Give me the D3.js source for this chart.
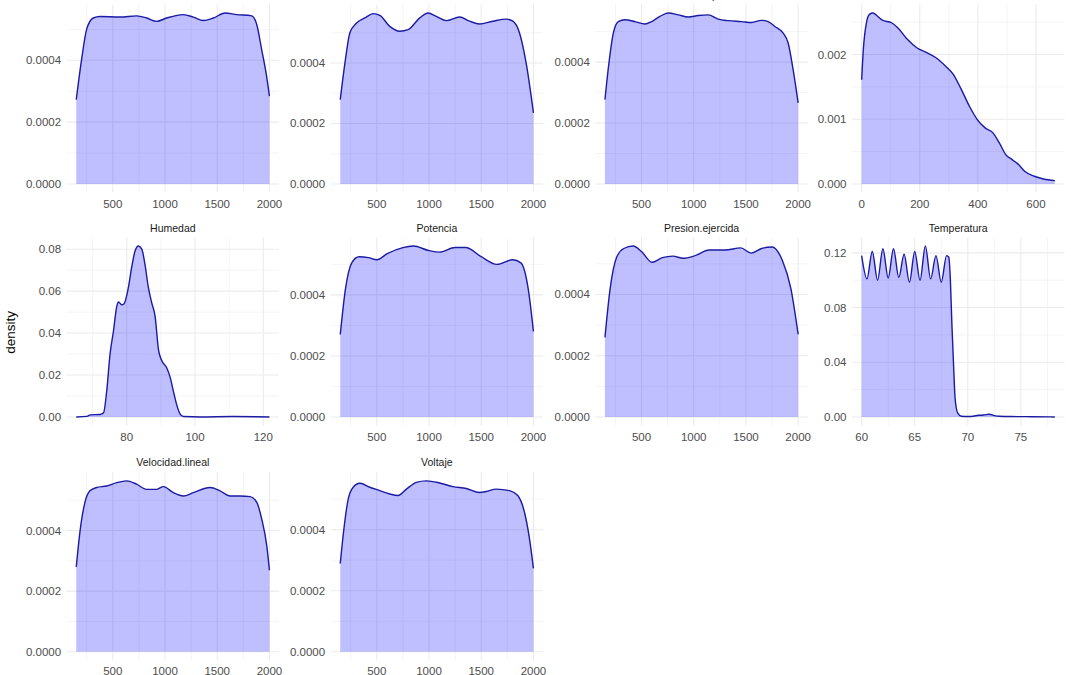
<!DOCTYPE html>
<html>
<head>
<meta charset="utf-8">
<script src="https://cdn.jsdelivr.net/npm/d3@7"></script>
<style>
  html, body { margin: 0; padding: 0; background: #ffffff; }
  svg text { font-family: "Liberation Sans", Arial, sans-serif; }
</style>
</head>
<body>
<svg id="chart" width="1071" height="675"></svg>
<script>
// ---------------- DATA ----------------
const panelNames = ["Corriente", "Frecuencia.motor", "Fuerza.compresion", "Horas.funcionamiento",
                    "Humedad", "Potencia", "Presion.ejercida", "Temperatura",
                    "Velocidad.lineal", "Voltaje"];

const densCorriente = [[150,0.000273],[201,0.000402],[249,0.0005],[313,0.000537],[377,0.000542],[568,0.00054],
  [728,0.000544],[824,0.000537],[920,0.000526],[1016,0.000537],[1176,0.000548],[1271,0.00054],[1367,0.000529],
  [1463,0.000537],[1575,0.000553],[1687,0.000548],[1831,0.000544],[1879,0.000515],[1926,0.000434],[1973,0.000348],[2000,0.000284]];

const densFrecuencia = [[150,0.000279],[195,0.0004],[242,0.0005],[306,0.000532],[386,0.000549],[465,0.000563],
  [529,0.000557],[624,0.000521],[720,0.000505],[800,0.00051],[911,0.000549],[991,0.000565],[1070,0.000554],
  [1166,0.00054],[1293,0.000552],[1389,0.000538],[1484,0.000529],[1611,0.000538],[1739,0.000545],[1803,0.000538],
  [1866,0.0005],[1930,0.0004],[2000,0.000235]];

const densFuerza = [[150,0.000277],[188,0.000397],[230,0.000495],[278,0.000533],[341,0.000539],[437,0.000533],
  [533,0.000525],[597,0.000533],[676,0.00055],[756,0.000561],[852,0.000555],[948,0.000548],[1043,0.000553],
  [1139,0.000555],[1235,0.000541],[1330,0.000536],[1458,0.000533],[1554,0.00053],[1649,0.000537],[1713,0.000533],
  [1777,0.000517],[1857,0.000495],[1905,0.000462],[1952,0.000375],[2000,0.000266]];

const densHoras = [[0,0.00161],[5.8,0.00208],[16.4,0.00249],[27,0.00262],[38.6,0.00264],[55,0.00259],[71.3,0.00253],
  [103,0.00249],[125,0.00241],[158,0.00223],[191,0.0021],[224,0.00203],[256,0.00195],[289,0.00182],[316,0.00169],
  [343,0.00146],[371,0.0012],[398,0.000995],[425,0.000866],[452,0.000789],[474,0.000634],[496,0.000454],
  [518,0.000376],[540,0.000299],[561,0.000196],[594,0.000119],[626,0.0000773],[665,0.0000515]];

const densHumedad = [[65.2,0],[68.3,0.0003],[69.3,0.001],[72.2,0.0012],[73.2,0.002],[74.1,0.012],[75.1,0.030],
  [76.1,0.041],[77.1,0.053],[77.6,0.0548],[78.5,0.0535],[79.2,0.054],[80.5,0.062],[81.5,0.072],[82.4,0.079],
  [83.4,0.0815],[84.4,0.080],[85.4,0.072],[86.3,0.062],[87.3,0.0545],[88.3,0.048],[89.3,0.032],[90.2,0.027],
  [91.7,0.0235],[92.7,0.019],[93.7,0.012],[94.6,0.006],[95.6,0.0015],[96.6,0.0002],[101.5,0],[111,0.0002],[121.8,0]];

const densPotencia = [[150,0.00027],[200,0.00042],[260,0.000505],[330,0.000525],[420,0.000522],[500,0.000515],
  [600,0.000535],[750,0.000555],[850,0.00056],[1000,0.000545],[1100,0.00054],[1250,0.000555],[1350,0.000555],
  [1500,0.000525],[1650,0.0005],[1800,0.000515],[1880,0.000505],[1950,0.00042],[2000,0.00028]];

const densPresion = [[150,0.00026],[200,0.00042],[260,0.00052],[330,0.00055],[420,0.000558],[500,0.00054],
  [600,0.000505],[700,0.00052],[800,0.000525],[900,0.000518],[1000,0.000525],[1150,0.000545],[1300,0.000545],
  [1450,0.000552],[1550,0.000535],[1650,0.00055],[1750,0.000555],[1850,0.00051],[1930,0.00042],[2000,0.00027]];

const densTemperatura = [[60,0.118],[60.5,0.101],[61,0.121],[61.5,0.100],[62,0.123],[62.5,0.1016],[63,0.123],
  [63.5,0.102],[64,0.119],[64.5,0.0985],[65,0.121],[65.5,0.100],[66,0.125],[66.5,0.101],[67,0.118],[67.5,0.0985],
  [68,0.118],[68.2,0.117],[68.36,0.1],[68.5,0.068],[68.67,0.036],[68.8,0.014],[69.04,0.003],[69.4,0.0005],
  [70,0.0003],[70.5,0.0005],[71,0.0012],[71.5,0.0014],[72,0.002],[72.5,0.001],[73,0.0005],[74,0.0003],[76,0.0002],[78.2,0]];

const densVelocidad = [[150,0.00028],[185,0.000395],[233,0.000493],[281,0.000531],[345,0.000542],[441,0.000547],
  [537,0.000558],[632,0.000564],[728,0.000553],[824,0.000536],[920,0.000536],[984,0.000545],[1080,0.000525],
  [1176,0.000514],[1271,0.000525],[1431,0.000542],[1527,0.000531],[1623,0.000514],[1719,0.000514],[1815,0.000512],
  [1879,0.000493],[1926,0.000438],[1974,0.000351],[2000,0.000269]];

const densVoltaje = [[150,0.000289],[185,0.000403],[226,0.0005],[274,0.000539],[338,0.000552],[433,0.000539],
  [529,0.000528],[624,0.000517],[704,0.000512],[784,0.000533],[879,0.000555],[975,0.00056],[1102,0.000553],
  [1229,0.000541],[1357,0.000535],[1484,0.000522],[1548,0.000525],[1643,0.000533],[1771,0.000528],[1850,0.000512],
  [1914,0.000457],[1962,0.000371],[2000,0.000273]];

const xTicksUniform = [500, 1000, 1500, 2000];
const xTicksHoras = [0, 200, 400, 600];
const xTicksHumedad = [80, 100, 120];
const xTicksTemperatura = [60, 65, 70, 75];

const yTicksUniform = [0, 0.0002, 0.0004];
const yLabelsUniform = ["0.0000", "0.0002", "0.0004"];
const yTicksHoras = [0, 0.001, 0.002];
const yLabelsHoras = ["0.000", "0.001", "0.002"];
const yTicksHumedad = [0, 0.02, 0.04, 0.06, 0.08];
const yLabelsHumedad = ["0.00", "0.02", "0.04", "0.06", "0.08"];
const yTicksTemperatura = [0, 0.04, 0.08, 0.12];
const yLabelsTemperatura = ["0.00", "0.04", "0.08", "0.12"];

const yAxisTitle = "density";

// ---------------- BUILD ----------------
const panelDens = [densCorriente, densFrecuencia, densFuerza, densHoras, densHumedad,
                   densPotencia, densPresion, densTemperatura, densVelocidad, densVoltaje];
const panelXTicks = [xTicksUniform, xTicksUniform, xTicksUniform, xTicksHoras, xTicksHumedad,
                     xTicksUniform, xTicksUniform, xTicksTemperatura, xTicksUniform, xTicksUniform];
const panelYTicks = [yTicksUniform, yTicksUniform, yTicksUniform, yTicksHoras, yTicksHumedad,
                     yTicksUniform, yTicksUniform, yTicksTemperatura, yTicksUniform, yTicksUniform];
const panelYLabels = [yLabelsUniform, yLabelsUniform, yLabelsUniform, yLabelsHoras, yLabelsHumedad,
                      yLabelsUniform, yLabelsUniform, yLabelsTemperatura, yLabelsUniform, yLabelsUniform];

const colLeft = [66.6, 330.6, 595.3, 852];
const rowTop = [4.5, 237.5, 472.3];
const PW = 212.5, PH = 188;

const svg = d3.select("#chart");
const fillCol = "rgba(0,0,255,0.25)";
const lineCol = "#1a1aa3";
const gridCol = "#ebebeb";

function minorBreaks(ticks, domain) {
  const step = ticks.length > 1 ? ticks[1] - ticks[0] : 1;
  const out = [];
  const ext = [ticks[0] - step].concat(ticks).concat([ticks[ticks.length - 1] + step]);
  for (let i = 0; i < ext.length - 1; i++) {
    const m = (ext[i] + ext[i + 1]) / 2;
    if (m >= domain[0] && m <= domain[1]) out.push(m);
  }
  return out;
}

panelDens.forEach((dens, i) => {
  const r = Math.floor(i / 4), c = i % 4;
  const x0 = colLeft[c], y0 = rowTop[r];
  const xs = dens.map(d => d[0]);
  const ys = dens.map(d => d[1]);
  const xmin = d3.min(xs), xmax = d3.max(xs);
  const xspan = xmax - xmin;
  const ymax = d3.max(ys);
  const xDom = [xmin - 0.05 * xspan, xmax + 0.05 * xspan];
  const yDom = [-0.05 * ymax, 1.05 * ymax];
  const x = d3.scaleLinear().domain(xDom).range([x0, x0 + PW]);
  const y = d3.scaleLinear().domain(yDom).range([y0 + PH, y0]);

  const g = svg.append("g");

  // grids
  const xt = panelXTicks[i].filter(v => v >= xDom[0] && v <= xDom[1]);
  const yt = panelYTicks[i];
  const xm = minorBreaks(panelXTicks[i], xDom);
  const ym = minorBreaks(yt, yDom);
  g.selectAll(".xminor").data(xm).enter().append("line")
    .attr("x1", d => x(d)).attr("x2", d => x(d)).attr("y1", y0).attr("y2", y0 + PH)
    .attr("stroke", gridCol).attr("stroke-width", 0.55);
  g.selectAll(".yminor").data(ym).enter().append("line")
    .attr("x1", x0).attr("x2", x0 + PW).attr("y1", d => y(d)).attr("y2", d => y(d))
    .attr("stroke", gridCol).attr("stroke-width", 0.55);
  g.selectAll(".xmajor").data(xt).enter().append("line")
    .attr("x1", d => x(d)).attr("x2", d => x(d)).attr("y1", y0).attr("y2", y0 + PH)
    .attr("stroke", gridCol).attr("stroke-width", 1.07);
  g.selectAll(".ymajor").data(yt).enter().append("line")
    .attr("x1", x0).attr("x2", x0 + PW).attr("y1", d => y(d)).attr("y2", d => y(d))
    .attr("stroke", gridCol).attr("stroke-width", 1.07);

  // area + line
  const area = d3.area().x(d => x(d[0])).y0(y(0)).y1(d => y(d[1])).curve(d3.curveMonotoneX);
  const line = d3.line().x(d => x(d[0])).y(d => y(d[1])).curve(d3.curveMonotoneX);
  g.append("path").datum(dens).attr("d", area).attr("fill", fillCol).attr("stroke", "none");
  g.append("path").datum(dens).attr("d", line).attr("fill", "none")
    .attr("stroke", lineCol).attr("stroke-width", 1.4);

  // axes labels
  g.selectAll(".xlab").data(xt).enter().append("text")
    .attr("x", d => x(d)).attr("y", y0 + PH + 15)
    .attr("text-anchor", "middle").attr("font-size", 11.5).attr("fill", "#4d4d4d")
    .text(d => d3.format("d")(d));
  g.selectAll(".ylab").data(yt).enter().append("text")
    .attr("x", x0 - 5.5).attr("y", d => y(d)).attr("dy", "0.35em")
    .attr("text-anchor", "end").attr("font-size", 11.5).attr("fill", "#4d4d4d")
    .text((d, k) => panelYLabels[i][k]);

  // strip title
  g.append("text").attr("x", x0 + PW / 2).attr("y", y0 - 6)
    .attr("text-anchor", "middle").attr("font-size", 10.5).attr("fill", "#1a1a1a")
    .text(panelNames[i]);
});

svg.append("text")
  .attr("transform", "translate(15," + ((rowTop[0] + rowTop[2] + PH) / 2) + ") rotate(-90)")
  .attr("text-anchor", "middle").attr("font-size", 13.5).attr("fill", "#000")
  .text(yAxisTitle);
</script>
</body>
</html>
